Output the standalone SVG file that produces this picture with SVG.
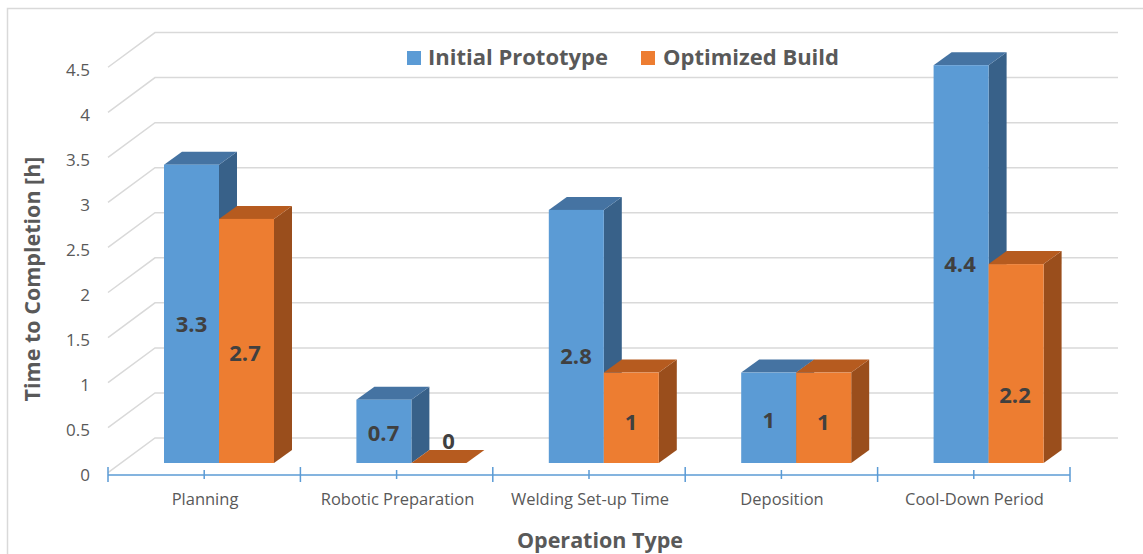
<svg xmlns="http://www.w3.org/2000/svg" width="1143" height="554" viewBox="0 0 1143 554">
<style>
.grid{stroke:#D9D9D9;stroke-width:1.5;fill:none}
.ylab{font-family:"Open Sans",Lato,"Liberation Sans",sans-serif;font-size:17px;fill:#595959;text-anchor:end}
.cat{font-family:"Open Sans",Lato,"Liberation Sans",sans-serif;font-size:16.5px;fill:#595959;text-anchor:middle}
.title{font-family:"Open Sans",Lato,"Liberation Sans",sans-serif;font-size:21.5px;font-weight:bold;fill:#595959}
.leg{font-family:"Open Sans",Lato,"Liberation Sans",sans-serif;font-size:22px;font-weight:bold;fill:#595959}
.dl{font-family:"Open Sans",Lato,"Liberation Sans",sans-serif;font-size:22px;font-weight:bold;fill:#404040;text-anchor:middle}
.bf{fill:#5B9BD5}.bt{fill:#4573A2}.bs{fill:#386189}
.of{fill:#ED7D31}.ot{fill:#B65B1F}.os{fill:#9A4E1C}
.axis{stroke:#5B9BD5;stroke-width:1.5;fill:none}
</style>
<rect x="7.5" y="8.5" width="1140" height="560" fill="#FFFFFF" stroke="#D9D9D9" stroke-width="1.5"/>
<g id="gridlines">
<path class="grid" d="M108,472.7L155,438L1118,438"/>
<path class="grid" d="M108,427.65L155,392.95L1118,392.95"/>
<path class="grid" d="M108,382.6L155,347.9L1118,347.9"/>
<path class="grid" d="M108,337.55L155,302.85L1118,302.85"/>
<path class="grid" d="M108,292.5L155,257.8L1118,257.8"/>
<path class="grid" d="M108,247.45L155,212.75L1118,212.75"/>
<path class="grid" d="M108,202.4L155,167.7L1118,167.7"/>
<path class="grid" d="M108,157.35L155,122.65L1118,122.65"/>
<path class="grid" d="M108,112.3L155,77.6L1118,77.6"/>
<path class="grid" d="M108,67.25L155,32.55L1118,32.55"/>
</g>
<g id="y-axis-labels">
<text class="ylab" x="90" y="481">0</text>
<text class="ylab" x="90" y="436">0.5</text>
<text class="ylab" x="90" y="391">1</text>
<text class="ylab" x="90" y="345.9">1.5</text>
<text class="ylab" x="90" y="300.9">2</text>
<text class="ylab" x="90" y="255.8">2.5</text>
<text class="ylab" x="90" y="210.8">3</text>
<text class="ylab" x="90" y="165.7">3.5</text>
<text class="ylab" x="90" y="120.7">4</text>
<text class="ylab" x="90" y="75.6">4.5</text>
</g>
<g id="connectors">
<path class="axis" d="M108,475H1070"/>
<path class="axis" d="M108,467V482M300.4,467V482M492.8,467V482M685.2,467V482M877.6,467V482M1070,467V482"/>
<path class="axis" d="M204.2,470V479M396.6,470V479M589,470V479M781.4,470V479M973.8,470V479"/>
</g>
<g id="planning">
<polygon class="bs" points="219,164.7 237,151.7 237,450 219,463"/>
<polygon class="bt" points="164,164.7 219,164.7 237,151.7 182,151.7"/>
<rect class="bf" x="164" y="164.7" width="55" height="298.3"/>
<polygon class="os" points="274,218.9 292,205.9 292,450 274,463"/>
<polygon class="ot" points="219,218.9 274,218.9 292,205.9 237,205.9"/>
<rect class="of" x="219" y="218.9" width="55" height="244.1"/>
<text class="dl" x="191.5" y="331.5">3.3</text>
<text class="dl" x="245" y="360.8">2.7</text>
<text class="cat" x="205" y="505">Planning</text>
</g>
<g id="robotic-preparation">
<polygon class="bs" points="411.4,399.7 429.4,386.7 429.4,450 411.4,463"/>
<polygon class="bt" points="356.4,399.7 411.4,399.7 429.4,386.7 374.4,386.7"/>
<rect class="bf" x="356.4" y="399.7" width="55" height="63.3"/>
<polygon class="ot" points="411.4,463 466.4,463 484.4,450 429.4,450"/>
<text class="dl" x="383.5" y="440.8">0.7</text>
<text class="dl" x="448.5" y="449.3">0</text>
<text class="cat" x="397.5" y="505">Robotic Preparation</text>
</g>
<g id="welding-setup">
<polygon class="bs" points="603.8,209.9 621.8,196.9 621.8,450 603.8,463"/>
<polygon class="bt" points="548.8,209.9 603.8,209.9 621.8,196.9 566.8,196.9"/>
<rect class="bf" x="548.8" y="209.9" width="55" height="253.1"/>
<polygon class="os" points="658.8,372.6 676.8,359.6 676.8,450 658.8,463"/>
<polygon class="ot" points="603.8,372.6 658.8,372.6 676.8,359.6 621.8,359.6"/>
<rect class="of" x="603.8" y="372.6" width="55" height="90.4"/>
<text class="dl" x="576" y="364.3">2.8</text>
<text class="dl" x="631" y="429.8">1</text>
<text class="cat" x="590" y="505">Welding Set-up Time</text>
</g>
<g id="deposition">
<polygon class="bs" points="796.2,372.6 814.2,359.6 814.2,450 796.2,463"/>
<polygon class="bt" points="741.2,372.6 796.2,372.6 814.2,359.6 759.2,359.6"/>
<rect class="bf" x="741.2" y="372.6" width="55" height="90.4"/>
<polygon class="os" points="851.2,372.6 869.2,359.6 869.2,450 851.2,463"/>
<polygon class="ot" points="796.2,372.6 851.2,372.6 869.2,359.6 814.2,359.6"/>
<rect class="of" x="796.2" y="372.6" width="55" height="90.4"/>
<text class="dl" x="768.7" y="428.3">1</text>
<text class="dl" x="823.3" y="430.3">1</text>
<text class="cat" x="782" y="505">Deposition</text>
</g>
<g id="cool-down">
<polygon class="bs" points="988.6,65.2 1006.6,52.2 1006.6,450 988.6,463"/>
<polygon class="bt" points="933.6,65.2 988.6,65.2 1006.6,52.2 951.6,52.2"/>
<rect class="bf" x="933.6" y="65.2" width="55" height="397.8"/>
<polygon class="os" points="1043.6,264.1 1061.6,251.1 1061.6,450 1043.6,463"/>
<polygon class="ot" points="988.6,264.1 1043.6,264.1 1061.6,251.1 1006.6,251.1"/>
<rect class="of" x="988.6" y="264.1" width="55" height="198.9"/>
<text class="dl" x="960" y="272">4.4</text>
<text class="dl" x="1015" y="403.2">2.2</text>
<text class="cat" x="974.5" y="505">Cool-Down Period</text>
</g>
<g id="legend">
<rect class="bf" x="407" y="51" width="14" height="14"/>
<text class="leg" x="428" y="65">Initial Prototype</text>
<rect class="of" x="641" y="51" width="14" height="14"/>
<text class="leg" x="663" y="65">Optimized Build</text>
</g>
<g id="axis-titles">
<text class="title" x="600" y="548" text-anchor="middle">Operation Type</text>
<text class="title" x="40" y="279" text-anchor="middle" font-size="23" transform="rotate(-90 40 279)">Time to Completion [h]</text>
</g>
</svg>
